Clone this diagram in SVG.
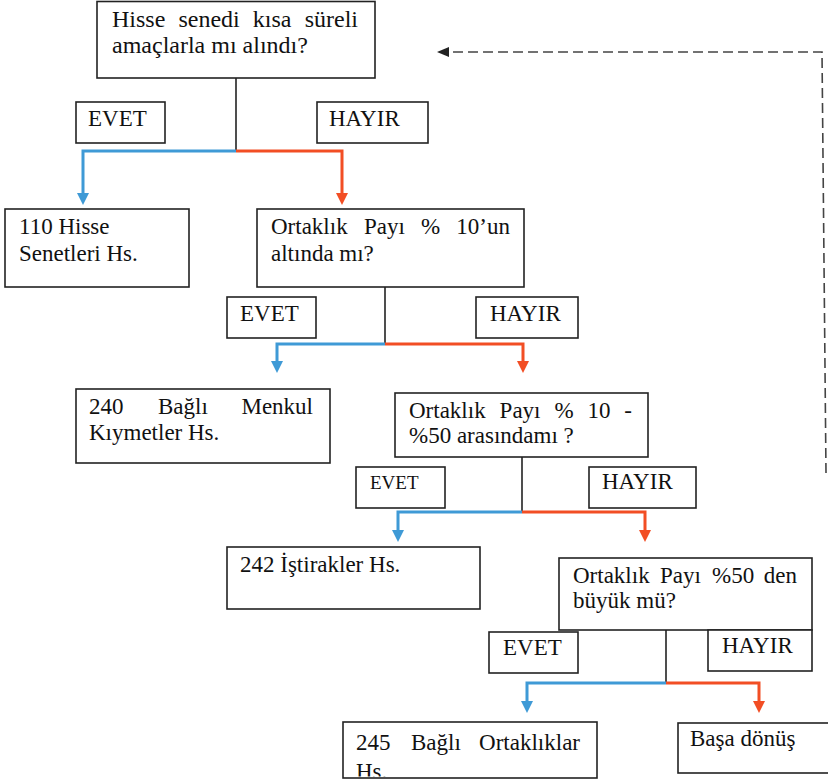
<svg xmlns="http://www.w3.org/2000/svg" width="828" height="780" viewBox="0 0 828 780">
<defs>
<style>
.box{fill:#fff;stroke:#222;stroke-width:1.6}
.t{font-family:"Liberation Serif","Times New Roman",serif;font-size:23px;fill:#111}
.tl{font-size:24px}
.ts{font-size:19px}
.k{fill:none;stroke:#222;stroke-width:1.6}
.b{fill:none;stroke:#3f9ad6;stroke-width:3}
.r{fill:none;stroke:#f24e24;stroke-width:3}
.d{fill:none;stroke:#444;stroke-width:1.6;stroke-dasharray:10 5}
</style>
<marker id="ab" markerUnits="userSpaceOnUse" markerWidth="12" markerHeight="12" viewBox="0 0 12 12" refX="0" refY="6" orient="auto"><path d="M0,0 L12,6 L0,12 z" fill="#3f9ad6"/></marker>
<marker id="ar" markerUnits="userSpaceOnUse" markerWidth="12" markerHeight="12" viewBox="0 0 12 12" refX="0" refY="6" orient="auto"><path d="M0,0 L12,6 L0,12 z" fill="#f24e24"/></marker>
<marker id="ak" markerUnits="userSpaceOnUse" markerWidth="12" markerHeight="10" viewBox="0 0 12 10" refX="0" refY="5" orient="auto"><path d="M0,0 L12,5 L0,10 z" fill="#222"/></marker>
<clipPath id="c245"><rect x="344" y="723" width="252" height="53.5"/></clipPath>
</defs>
<rect width="828" height="780" fill="#fff"/>

<g id="connectors">
<path class="k" d="M236,78 V151"/>
<path class="b" d="M236,151 H83 V193" marker-end="url(#ab)"/>
<path class="r" d="M236,151 H342 V193" marker-end="url(#ar)"/>
<path class="k" d="M385,287 V344"/>
<path class="b" d="M385,344 H277 V361" marker-end="url(#ab)"/>
<path class="r" d="M385,344 H523 V361" marker-end="url(#ar)"/>
<path class="k" d="M522,457 V512"/>
<path class="b" d="M522,512 H398 V530" marker-end="url(#ab)"/>
<path class="r" d="M522,512 H645 V530" marker-end="url(#ar)"/>
<path class="k" d="M666,630 V683"/>
<path class="b" d="M666,683 H527 V701" marker-end="url(#ab)"/>
<path class="r" d="M666,683 H759 V701" marker-end="url(#ar)"/>
<path class="d" d="M826,473 L822,52 H449" marker-end="url(#ak)"/>
</g>

<g id="q1">
<rect class="box" x="97" y="1.5" width="278" height="76.5"/>
<text class="t tl" y="27"><tspan x="112">Hisse</tspan><tspan x="178.4">senedi</tspan><tspan x="252.8">kısa</tspan><tspan x="358" text-anchor="end">süreli</tspan></text>
<text class="t tl" x="112" y="53">amaçlarla mı alındı?</text>
</g>
<g id="evet1"><rect class="box" x="76" y="102" width="89" height="41"/><text class="t" x="88" y="126">EVET</text></g>
<g id="hayir1"><rect class="box" x="317" y="102" width="111" height="41"/><text class="t" x="329" y="126">HAYIR</text></g>

<g id="n110">
<rect class="box" x="5" y="209" width="184" height="78"/>
<text class="t" x="19" y="234">110 Hisse</text>
<text class="t" x="19" y="261">Senetleri Hs.</text>
</g>
<g id="q2">
<rect class="box" x="257" y="209" width="267" height="78"/>
<text class="t" y="234"><tspan x="271">Ortaklık</tspan><tspan x="363.9">Payı</tspan><tspan x="421">%</tspan><tspan x="510" text-anchor="end">10’un</tspan></text>
<text class="t" x="271" y="261">altında mı?</text>
</g>
<g id="evet2"><rect class="box" x="227" y="297" width="89" height="41"/><text class="t" x="240" y="321">EVET</text></g>
<g id="hayir2"><rect class="box" x="476" y="297" width="102" height="41"/><text class="t" x="490" y="321">HAYIR</text></g>

<g id="n240">
<rect class="box" x="76" y="389" width="254" height="74"/>
<text class="t" y="414"><tspan x="89">240</tspan><tspan x="158">Bağlı</tspan><tspan x="313" text-anchor="end">Menkul</tspan></text>
<text class="t" x="89" y="440">Kıymetler Hs.</text>
</g>
<g id="q3">
<rect class="box" x="395" y="393" width="253" height="64"/>
<text class="t" y="418"><tspan x="409">Ortaklık</tspan><tspan x="499.6">Payı</tspan><tspan x="554.4">%</tspan><tspan x="587.5">10</tspan><tspan x="632" text-anchor="end">-</tspan></text>
<text class="t" x="409" y="443">%50 arasındamı ?</text>
</g>
<g id="evet3"><rect class="box" x="356" y="467" width="89" height="41"/><text class="t ts" x="370" y="489">EVET</text></g>
<g id="hayir3"><rect class="box" x="589" y="467" width="107" height="41"/><text class="t" x="602" y="489">HAYIR</text></g>

<g id="n242">
<rect class="box" x="227" y="547" width="253" height="62"/>
<text class="t" x="240" y="572">242 İştirakler Hs.</text>
</g>
<g id="q4">
<rect class="box" x="559" y="558" width="253" height="72"/>
<text class="t" y="583"><tspan x="573">Ortaklık</tspan><tspan x="660">Payı</tspan><tspan x="712">%50</tspan><tspan x="797" text-anchor="end">den</tspan></text>
<text class="t" x="573" y="608">büyük mü?</text>
</g>
<g id="evet4"><rect class="box" x="489" y="632" width="89" height="41"/><text class="t" x="503" y="655">EVET</text></g>
<g id="hayir4"><rect class="box" x="708" y="630" width="104" height="41"/><text class="t" x="722" y="653">HAYIR</text></g>

<g id="n245">
<rect class="box" x="343" y="722" width="254" height="56"/>
<g clip-path="url(#c245)">
<text class="t" y="750"><tspan x="356">245</tspan><tspan x="411">Bağlı</tspan><tspan x="580" text-anchor="end">Ortaklıklar</tspan></text>
<text class="t" x="356" y="779">Hs.</text>
</g>
</g>
<g id="basa">
<rect class="box" x="678" y="723" width="160" height="50"/>
<text class="t" x="690" y="746">Başa dönüş</text>
</g>
</svg>
